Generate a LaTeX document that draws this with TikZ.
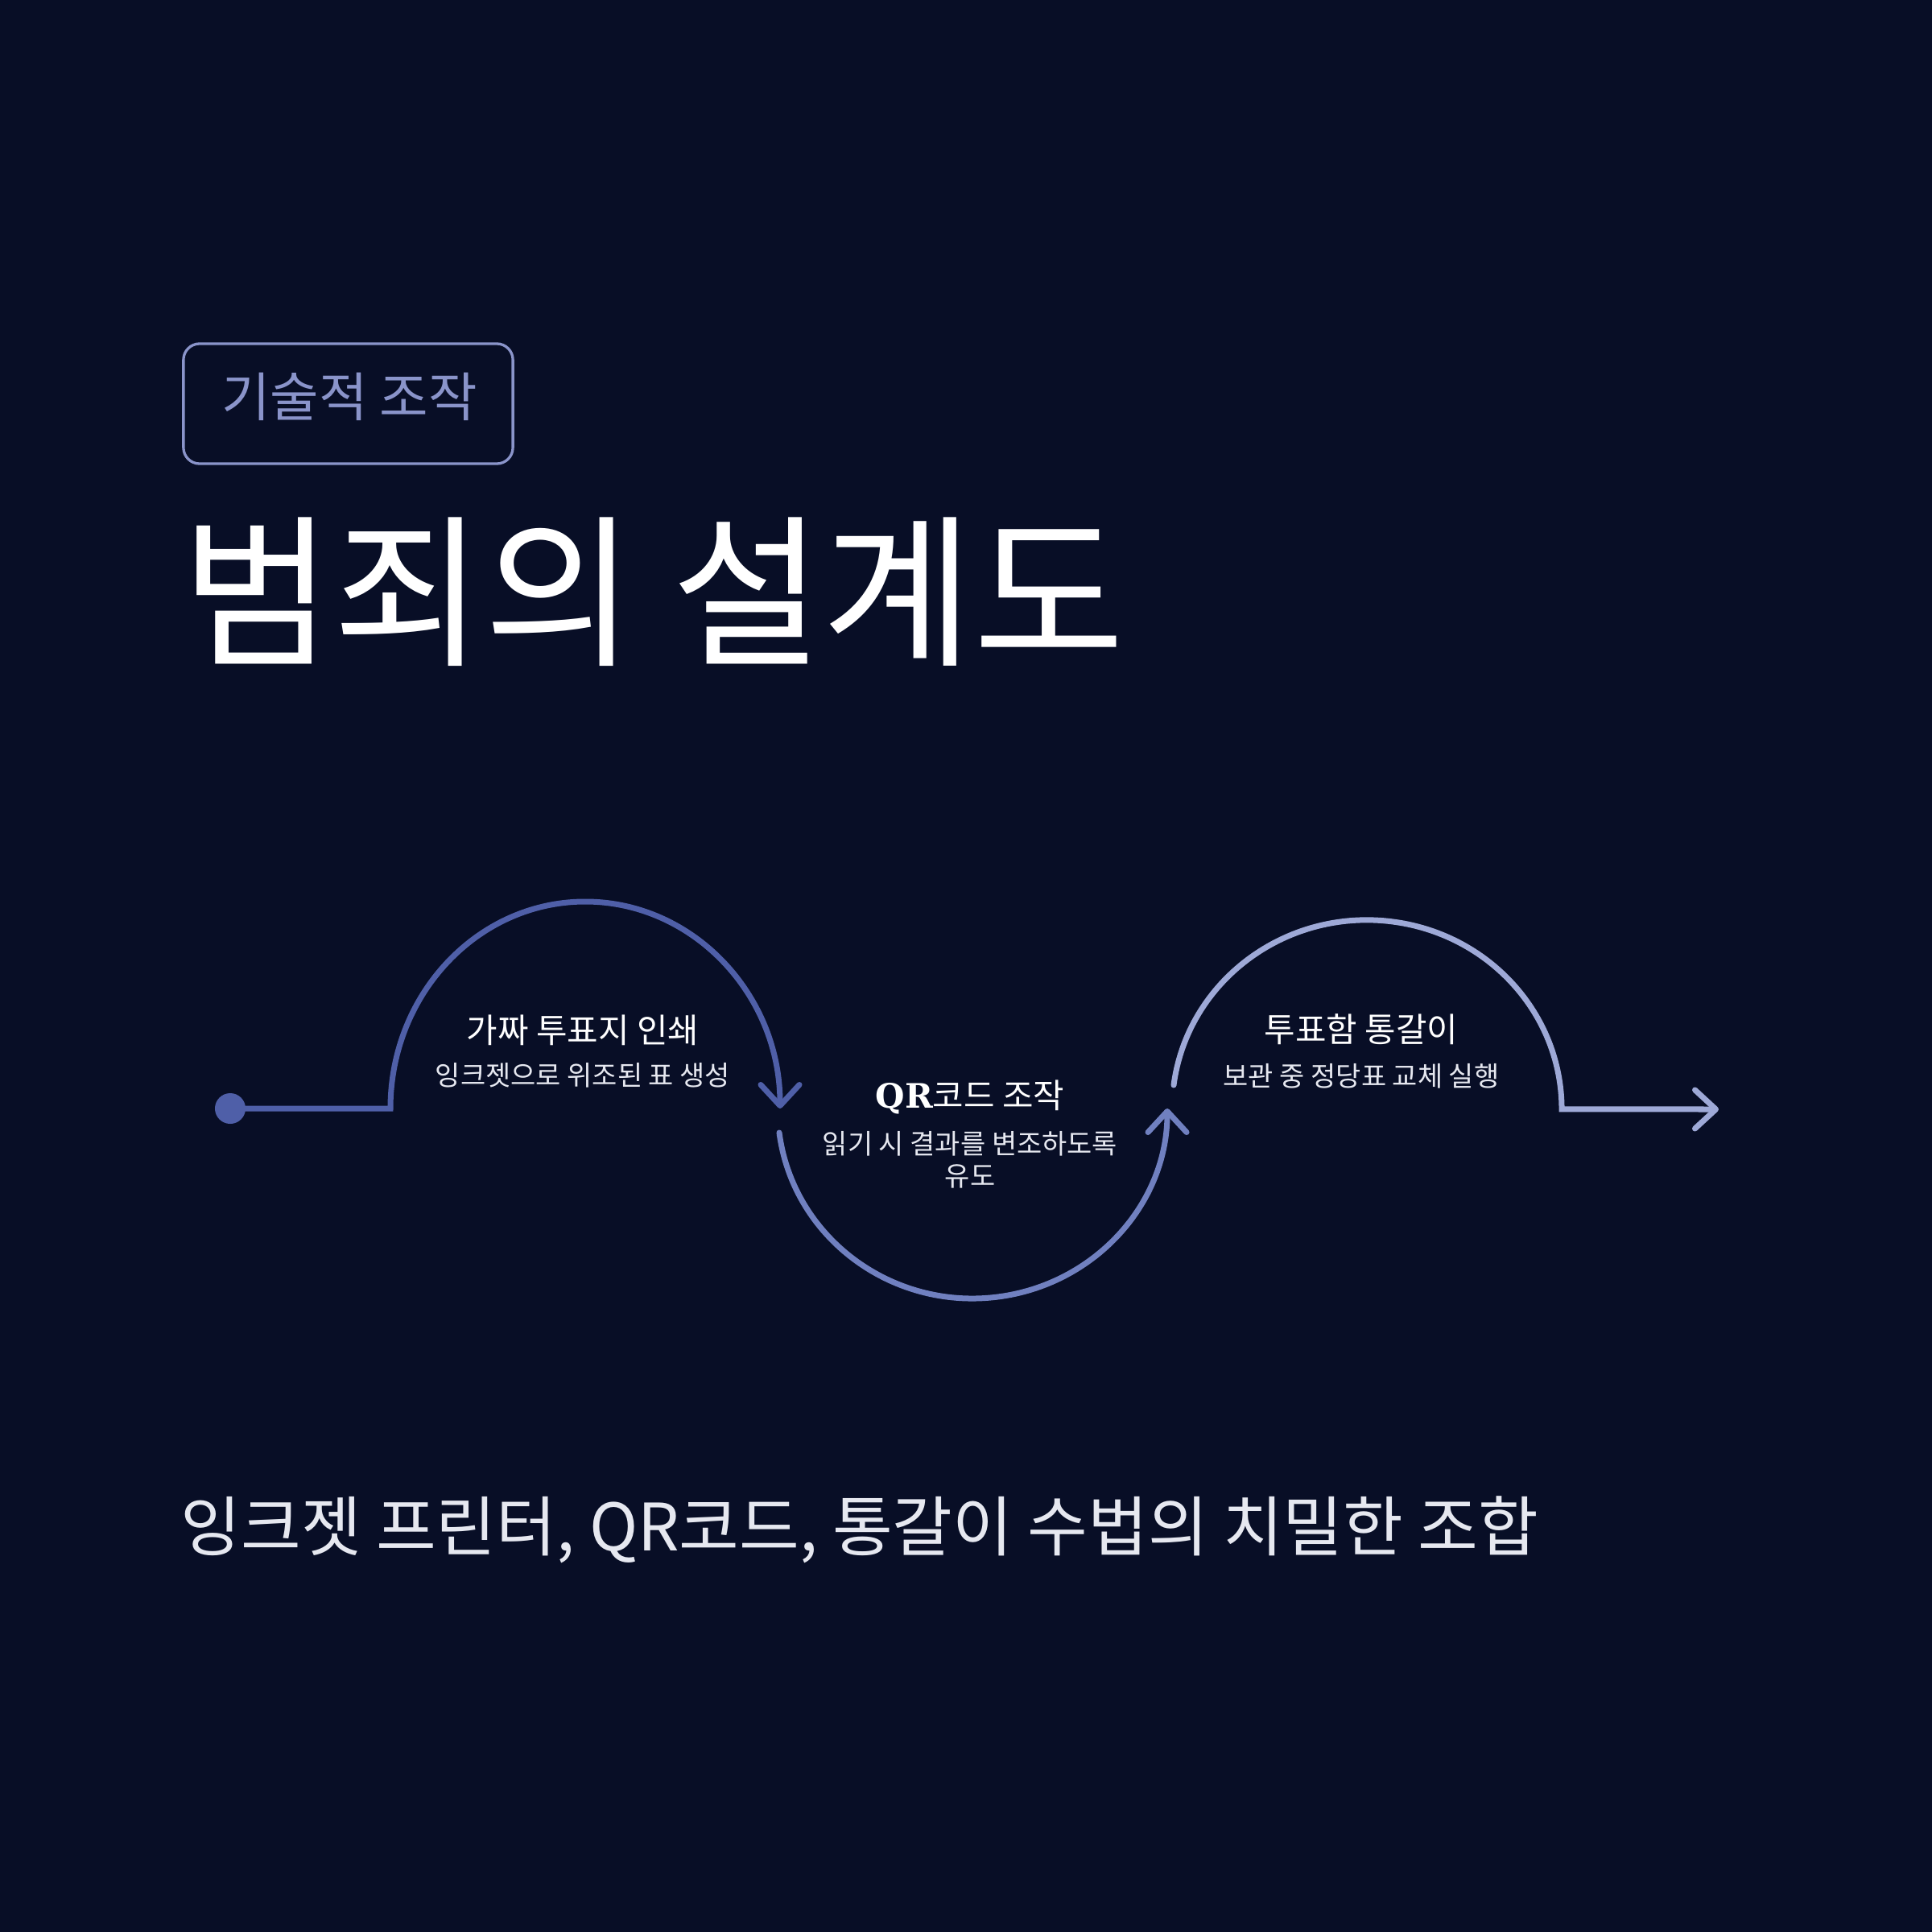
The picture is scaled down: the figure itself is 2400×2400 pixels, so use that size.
\documentclass[tikz,border=0pt]{standalone}
\usepackage{fontspec}
\setmainfont{Noto Sans CJK KR}
\newfontfamily\qrfont{DejaVu Serif}
\usetikzlibrary{arrows.meta}
\definecolor{bgc}{HTML}{080E26}
\definecolor{tagc}{HTML}{8A94CA}
\definecolor{aone}{HTML}{4F5FA8}
\definecolor{atwo}{HTML}{7080C0}
\definecolor{athree}{HTML}{9EA9D7}
\definecolor{subc}{HTML}{E6E8F0}
\tikzset{
  flow/.style={line width=0.07cm, line cap=round, line join=miter},
  barb/.style={-{Straight Barb[length=0.26cm, width=0.48cm, line cap=round, line join=round]}},
  steptitle/.style={text=white, inner sep=0pt, font=\fontsize{11.9pt}{14pt}\selectfont},
  stepsub/.style={text=subc, inner sep=0pt, align=center, font=\fontsize{9.65pt}{11.38pt}\selectfont},
}
\begin{document}
\begin{tikzpicture}[x=0.01cm, y=-0.01cm]
\fill[bgc] (0,0) rectangle (2400,2400);
\useasboundingbox (0,0) rectangle (2400,2400);

% tag
\node (tagbox) [draw=tagc, line width=0.033cm, rounded corners=0.2cm, minimum width=4.09cm, minimum height=1.49cm, inner sep=0pt] at (432.5,501.5) {};
\node (tagtext) [text=tagc, inner sep=0pt, font=\fontsize{18.7pt}{21pt}\selectfont] at (434,493) {기술적 조작};

% title
\node (title) [anchor=west, text=white, inner sep=0pt, font=\fontsize{58pt}{64pt}\selectfont] at (225,735) {범죄의 설계도};

% flow
\node (dot) [circle, fill=aone, minimum size=0.38cm, inner sep=0pt] at (286,1377) {};
\coordinate (aonestart) at (485,1377);
\coordinate (atwostart) at (968,1407);
\coordinate (athreestart) at (1458,1348);
\coordinate (endtip) at (2135,1378);

\draw[flow, aone, barb] (dot.center) -- (aonestart) arc[start angle=180, end angle=360, x radius=242, y radius=257];
\draw[flow, atwo, barb] (atwostart) arc[start angle=172.7, end angle=0, x radius=242, y radius=236];
\draw[flow, athree, barb] (athreestart) arc[start angle=187.3, end angle=360, x radius=242, y radius=235] -- (endtip);

\node (s1t) [steptitle] at (724,1280) {가짜 투표지 인쇄};
\node (s1s) [stepsub] at (724,1336) {잉크젯으로 위조된 표 생성};
\node (s2t) [steptitle] at (1205,1363) {{\qrfont\bfseries QR}코드 조작};
\node (s2s) [stepsub, anchor=north] at (1205,1405) {읽기 시 결과를 변조하도록\\유도};
\node (s3t) [steptitle] at (1691,1279) {투표함 통갈이};
\node (s3s) [stepsub] at (1691,1337) {보관 중 정당표 교체 실행};

% bottom
\node (bottom) [anchor=west, text=subc, inner sep=0pt, font=\fontsize{23.1pt}{27pt}\selectfont] at (224,1900) {잉크젯 프린터, QR코드, 통갈이 수법의 치밀한 조합};
\end{tikzpicture}
\end{document}
